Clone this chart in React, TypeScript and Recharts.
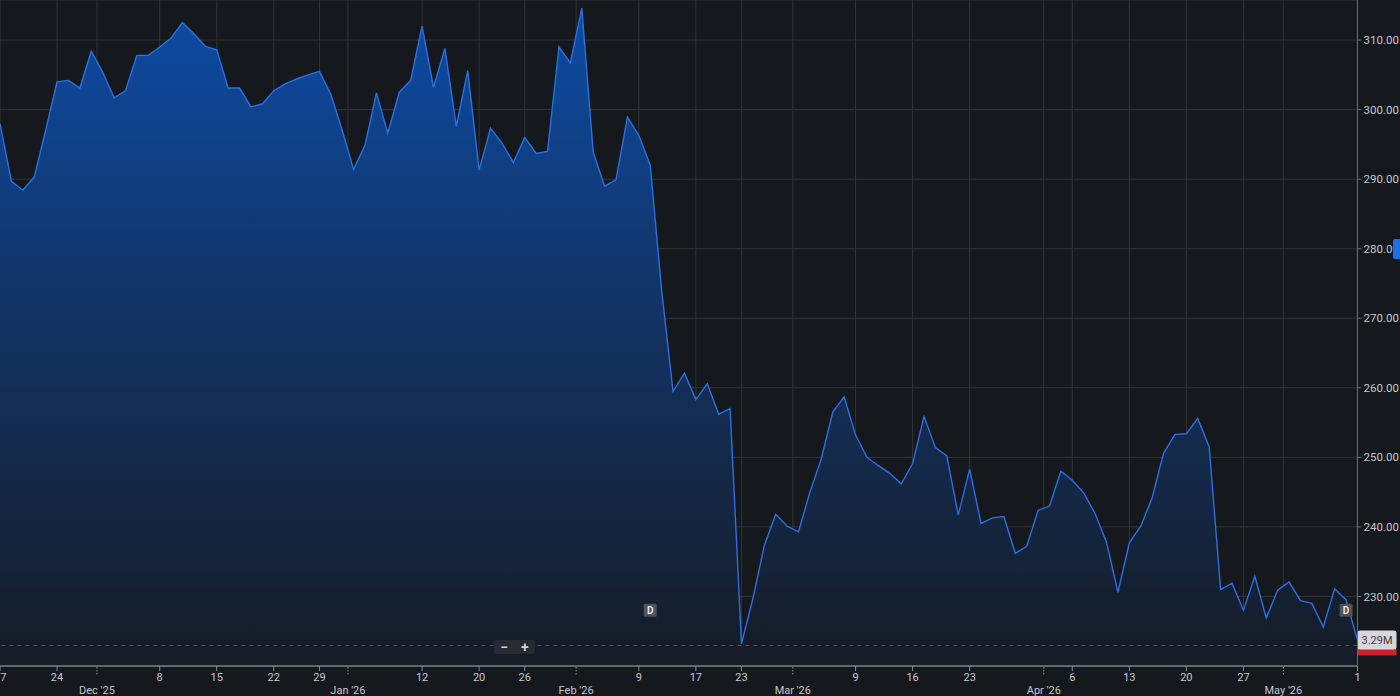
import React from 'react';
import {
  ComposedChart,
  Area,
  XAxis,
  YAxis,
  CartesianGrid,
  ReferenceLine,
  ReferenceDot,
} from 'recharts';

// Daily closing prices, one per trading day (Nov 17 '25 .. May '26)
const prices = [
  298.0, 289.7, 288.4, 290.3, 297.0, 304.0, 304.2, 303.1, 308.4, 305.4,
  301.7, 302.7, 307.8, 307.8, 309.0, 310.3, 312.5, 310.9, 309.1, 308.6,
  303.1, 303.1, 300.4, 300.8, 302.7, 303.7, 304.4, 305.0, 305.5, 302.2,
  297.0, 291.4, 294.9, 302.4, 296.6, 302.5, 304.2, 312.0, 303.2, 308.8,
  297.6, 305.6, 291.3, 297.3, 295.2, 292.4, 296.0, 293.7, 294.0, 309.0,
  306.7, 314.6, 293.9, 289.0, 289.9, 298.9, 296.3, 292.0, 274.0, 259.5,
  262.1, 258.3, 260.6, 256.2, 257.0, 223.2, 229.7, 237.3, 241.8, 240.1,
  239.3, 245.0, 249.8, 256.5, 258.7, 253.2, 250.0, 248.8, 247.7, 246.2,
  249.1, 255.9, 251.4, 250.2, 241.7, 248.3, 240.5, 241.3, 241.5, 236.2,
  237.2, 242.4, 243.0, 248.0, 246.7, 244.9, 241.9, 237.8, 230.6, 237.7,
  240.1, 244.2, 250.6, 253.3, 253.4, 255.6, 251.5, 231.0, 231.9, 228.0,
  232.9, 226.9, 230.9, 232.1, 229.4, 229.0, 225.6, 231.1, 229.5, 223.7,
];

const dayTickIdx = [0, 5, 14, 19, 24, 28, 37, 42, 46, 56, 61, 65, 75, 80, 85, 94, 99, 104, 109, 119];
// first label is the visible part of "17" at the chart's left edge
const dayTickLabels = ['7', '24', '8', '15', '22', '29', '12', '20', '26', '9', '17', '23', '9', '16', '23', '6', '13', '20', '27', '1'];
const monthTickIdx = [8.5, 30.5, 50.5, 69.5, 91.5, 112.5];
const monthTickLabels = ["Dec '25", "Jan '26", "Feb '26", "Mar '26", "Apr '26", "May '26"];
const priceTicks = [230, 240, 250, 260, 270, 280, 290, 300, 310];
const priceDomain = [220, 315.76];
const eventIdx = [57, 118];
const eventLabels = ['D', 'D'];
const eventLevel = 228;
const volumeLevel = 222.95;
const volumeLabel = '3.29M';

const data = prices.map((p, i) => ({ i, price: p }));
const allTicks = [...dayTickIdx, ...monthTickIdx].sort((a, b) => a - b);

const FONT = 'Roboto, "Noto Sans", sans-serif';
const LABEL = '#c5c7cb';
const BG = '#15181d';

const XTick = (props: any) => {
  const { x, y, payload } = props;
  const v = payload.value;
  const mi = monthTickIdx.indexOf(v);
  if (mi >= 0) {
    return (
      <g>
        <line x1={x} x2={x} y1={y + 1} y2={y + 9} stroke="#8a8d92" strokeDasharray="1.5 1.5" />
        <text x={x} y={y + 28} textAnchor="middle" fill={LABEL} fontSize={11} fontFamily={FONT}>
          {monthTickLabels[mi]}
        </text>
      </g>
    );
  }
  const di = dayTickIdx.indexOf(v);
  const atEdge = x < 3;
  return (
    <g>
      <line x1={x} x2={x} y1={y} y2={y + 5} stroke="#8a8d92" />
      <text
        x={atEdge ? x + 0.3 : x}
        y={y + 14.5}
        textAnchor={atEdge ? 'start' : 'middle'}
        fill={LABEL}
        fontSize={11}
        fontFamily={FONT}
      >
        {di >= 0 ? dayTickLabels[di] : ''}
      </text>
    </g>
  );
};

const EventBadge = (label: string) => (props: any) => {
  const { cx, cy } = props;
  return (
    <g>
      <rect x={cx - 6.5} y={cy - 6.5} width={13} height={13} rx={1.5} fill="#4e535b" />
      <text x={cx} y={cy + 3.8} textAnchor="middle" fill="#eceef0" fontSize={10} fontWeight={600} fontFamily={FONT}>
        {label}
      </text>
    </g>
  );
};

const VolumeTag = (props: any) => {
  const { viewBox } = props;
  const x = viewBox.x + viewBox.width;
  const y = viewBox.y;
  return (
    <g>
      <rect x={x} y={y + 3.5} width={39} height={6.5} fill="#cc2027" />
      <rect x={x} y={y - 15} width={39} height={19} rx={2.5} fill="#d6d7dc" />
      <text x={x + 19.5} y={y - 1.8} textAnchor="middle" fill="#3d4048" fontSize={11} fontFamily={FONT}>
        {volumeLabel}
      </text>
    </g>
  );
};

export default function App() {
  return (
    <div style={{ position: 'absolute', left: 0, top: 0, width: 1400, height: 696, background: BG, overflow: 'hidden' }}>
      <ComposedChart width={1400} height={696} data={data} margin={{ top: 0, right: 0, bottom: 0, left: 0 }}>
        <defs>
          <linearGradient id="areaFill" x1="0" y1="0" x2="0" y2="666" gradientUnits="userSpaceOnUse">
            <stop offset="0" stopColor="#0d4ca6" />
            <stop offset="0.45" stopColor="#123466" />
            <stop offset="1" stopColor="#161c26" />
          </linearGradient>
        </defs>
        <CartesianGrid stroke="#30343a" strokeWidth={1} />
        <XAxis
          dataKey="i"
          type="number"
          domain={[0, 119]}
          ticks={allTicks}
          interval={0}
          height={30}
          tickSize={0}
          tickMargin={0}
          tickLine={false}
          tick={<XTick />}
          axisLine={{ stroke: '#7d8085', strokeWidth: 1.5 }}
        />
        <YAxis
          orientation="right"
          width={42.5}
          type="number"
          domain={priceDomain}
          allowDataOverflow
          ticks={priceTicks}
          interval={0}
          tickSize={4}
          tickMargin={2}
          tickFormatter={(v: number) => v.toFixed(2)}
          tick={{ fill: LABEL, fontSize: 11.5, fontFamily: FONT }}
          tickLine={{ stroke: '#6a6d72' }}
          axisLine={{ stroke: '#6a6d72' }}
        />
        <Area
          type="linear"
          dataKey="price"
          stroke="#2d6fe0"
          strokeWidth={1.4}
          fill="url(#areaFill)"
          fillOpacity={1}
          isAnimationActive={false}
          dot={false}
          activeDot={false}
        />
        <ReferenceLine
          y={volumeLevel}
          stroke="#a02c50"
          strokeWidth={1}
          strokeDasharray="4 4"
          ifOverflow="extendDomain"
          label={<VolumeTag />}
        />
        {eventIdx.map((ix, k) => (
          <ReferenceDot key={k} x={ix} y={eventLevel} r={6} shape={EventBadge(eventLabels[k])} />
        ))}
      </ComposedChart>
      <div
        style={{
          position: 'absolute',
          left: 494,
          top: 640,
          width: 41,
          height: 14,
          background: '#262b33',
          borderRadius: 2,
          display: 'flex',
          justifyContent: 'space-around',
          alignItems: 'center',
          color: '#d3d5d9',
          fontFamily: FONT,
          fontSize: 14,
          fontWeight: 600,
          lineHeight: '14px',
        }}
      >
        <span>−</span>
        <span>+</span>
      </div>
      <div
        style={{
          position: 'absolute',
          left: 1393,
          top: 239,
          width: 7,
          height: 20,
          background: '#1f6fe5',
          borderRadius: '2px 0 0 2px',
        }}
      />
    </div>
  );
}
